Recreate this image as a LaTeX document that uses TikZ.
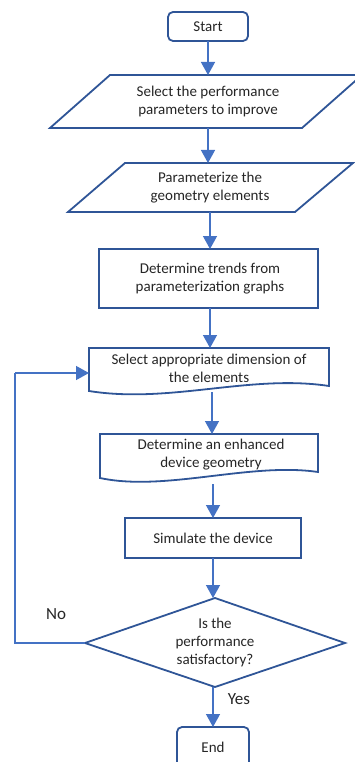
\documentclass[tikz,border=0pt]{standalone}
\usepackage{fontspec}
\setmainfont{Carlito}
\usetikzlibrary{arrows.meta}
\definecolor{edge}{HTML}{2F5597}
\definecolor{arr}{HTML}{4472C4}
\tikzset{
  x=1pt,y=-1pt,
  txt/.style={align=center,font=\fontsize{15}{18}\selectfont,text=black!85,inner sep=0pt},
  lbl/.style={font=\fontsize{17}{20}\selectfont,text=black!85,inner sep=0pt},
  outline/.style={draw=edge,line width=1.8pt,fill=white,line join=miter},
  conn/.style={draw=arr,line width=1.4pt,-{Triangle[length=13pt,width=14pt]}},
}
\begin{document}
\begin{tikzpicture}
\useasboundingbox (0,0) rectangle (355,762);
\clip (0,0) rectangle (355,762);
% shapes
\draw[outline,rounded corners=5pt] (168,12) rectangle (248,41);
\draw[outline] (50,128) -- (110,75) -- (362,75) -- (302,128) -- cycle;
\draw[outline] (68,212) -- (125,163) -- (353,163) -- (295,212) -- cycle;
\draw[outline] (99,249) rectangle (318,308);
\draw[outline] (89,391) -- (89,348) -- (329,348) -- (329,386) .. controls (250,374) and (170,404) .. (89,391) -- cycle;
\draw[outline] (100,478) -- (100,434) -- (318,434) -- (318,472) .. controls (250,462) and (165,492) .. (100,478) -- cycle;
\draw[outline] (125,518) rectangle (301,558);
\draw[outline] (215,598) -- (345,643) -- (215,687) -- (85,643) -- cycle;
\draw[outline,rounded corners=5pt] (177,727) rectangle (249,780);
% named nodes
\node[txt,minimum width=80pt,minimum height=29pt] (start) at (208,26.5) {Start};
\node[txt,minimum width=200pt,minimum height=53pt] (p1) at (208,101.5) {Select the performance\\parameters to improve};
\node[txt,minimum width=180pt,minimum height=49pt] (p2) at (210,187.5) {Parameterize the\\geometry elements};
\node[txt,minimum width=219pt,minimum height=59pt] (r3) at (210,278.5) {Determine trends from\\parameterization graphs};
\node[txt,minimum width=240pt,minimum height=47pt] (d4) at (209,368) {Select appropriate dimension of\\the elements};
\node[txt,minimum width=218pt,minimum height=46pt] (d5) at (211,455) {Determine an enhanced\\device geometry};
\node[txt,minimum width=176pt,minimum height=40pt] (r6) at (213,538) {Simulate the device};
\node[txt,minimum width=260pt,minimum height=89pt] (dec) at (215,642.5) {Is the\\performance\\satisfactory?};
\node[txt,minimum width=72pt,minimum height=40pt] (endn) at (213,747) {End};
\node[lbl] (no) at (56,614) {No};
\node[lbl] (yes) at (239,699) {Yes};
\coordinate (loopA) at (15,643);
\coordinate (loopB) at (15,373);
% connectors
\draw[conn] (208,41) -- (208,75);
\draw[conn] (208,128) -- (208,163);
\draw[conn] (210,212) -- (210,249);
\draw[conn] (210,308) -- (210,348);
\draw[conn] (212,392) -- (212,434);
\draw[conn] (213,484) -- (213,518);
\draw[conn] (213,558) -- (213,598);
\draw[conn] (213,687) -- (213,727);
\draw[draw=arr,line width=1.4pt] (85,643) -- (loopA) -- (loopB);
\draw[conn] (loopB) -- (89,373);
\end{tikzpicture}
\end{document}
